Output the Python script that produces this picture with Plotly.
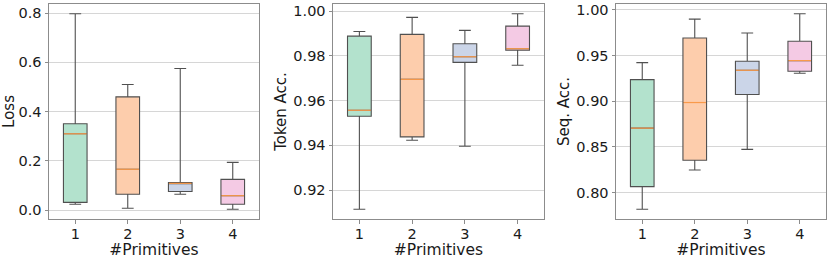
import plotly.graph_objects as go

positions = [1, 2, 3, 4]
tick_labels = ["1", "2", "3", "4"]
box_colors = ["#b3e2cd", "#fdcdac", "#cbd5e8", "#f4cae4"]

# Loss
loss_low = [0.024, 0.008, 0.065, 0.004]
loss_q1 = [0.032, 0.065, 0.076, 0.024]
loss_med = [0.310, 0.166, 0.109, 0.059]
loss_q3 = [0.351, 0.460, 0.112, 0.125]
loss_high = [0.797, 0.510, 0.575, 0.194]

# Token accuracy
tok_low = [0.9115, 0.9423, 0.9396, 0.9758]
tok_q1 = [0.9530, 0.9438, 0.9771, 0.9825]
tok_med = [0.9557, 0.9695, 0.9796, 0.9832]
tok_q3 = [0.9888, 0.9896, 0.9854, 0.9933]
tok_high = [0.9909, 0.9972, 0.9914, 0.9988]

# Sequence accuracy
seq_low = [0.7818, 0.8247, 0.8473, 0.9305]
seq_q1 = [0.8065, 0.8353, 0.9073, 0.9327]
seq_med = [0.8705, 0.8985, 0.9338, 0.9444]
seq_q3 = [0.9236, 0.9691, 0.9436, 0.9655]
seq_high = [0.9422, 0.9898, 0.9745, 0.9956]

panels = [
    ("Loss", loss_low, loss_q1, loss_med, loss_q3, loss_high, [0.0, 0.2, 0.4, 0.6, 0.8], "%.1f"),
    ("Token Acc.", tok_low, tok_q1, tok_med, tok_q3, tok_high, [0.92, 0.94, 0.96, 0.98, 1.00], "%.2f"),
    ("Seq. Acc.", seq_low, seq_q1, seq_med, seq_q3, seq_high, [0.80, 0.85, 0.90, 0.95, 1.00], "%.2f"),
]

W, H = 830, 259
x_domains = [[49 / W, 259 / W], [333 / W, 544 / W], [616 / W, 826 / W]]
y_domain = [1 - 219 / H, 1 - 4 / H]
BOX_W = 0.45
FONT = "DejaVu Sans"

fig = go.Figure()
layout = {}
for k, (title, lo, q1, med, q3, hi, ticks, fmt) in enumerate(panels):
    xa = "x" if k == 0 else f"x{k+1}"
    ya = "y" if k == 0 else f"y{k+1}"
    for i, p in enumerate(positions):
        fig.add_trace(go.Box(
            x=[p], q1=[q1[i]], median=[med[i]], q3=[q3[i]],
            lowerfence=[lo[i]], upperfence=[hi[i]],
            width=BOX_W, whiskerwidth=0.5,
            fillcolor=box_colors[i],
            line=dict(color="#505050", width=1.1),
            boxpoints=False, showlegend=False, hoverinfo="skip",
            xaxis=xa, yaxis=ya,
        ))
        fig.add_trace(go.Scatter(
            x=[p - BOX_W / 2 + 0.01, p + BOX_W / 2 - 0.01], y=[med[i], med[i]],
            mode="lines", line=dict(color="#f99a4a", width=1.2),
            showlegend=False, hoverinfo="skip", xaxis=xa, yaxis=ya,
        ))
    allv = lo + hi
    vmin, vmax = min(allv), max(allv)
    pad = (vmax - vmin) * 0.05
    xkey = "xaxis" if k == 0 else f"xaxis{k+1}"
    ykey = "yaxis" if k == 0 else f"yaxis{k+1}"
    layout[xkey] = dict(
        domain=x_domains[k], anchor=ya, range=[0.5, 4.5], automargin=False,
        tickvals=positions, ticktext=tick_labels,
        showgrid=False, zeroline=False,
        showline=True, mirror=True, linecolor="#8c8c8c", linewidth=1,
        ticks="outside", ticklen=3.5, tickcolor="#8c8c8c",
        ticklabelstandoff=-2,
        tickfont=dict(family=FONT, size=14.5, color="#1a1a1a"),
        title=dict(text="#Primitives", standoff=0,
                   font=dict(family=FONT, size=15.5, color="#1a1a1a")),
    )
    layout[ykey] = dict(
        domain=y_domain, anchor=xa, range=[vmin - pad, vmax + pad], automargin=False,
        tickvals=ticks, ticktext=[fmt % t for t in ticks],
        showgrid=True, gridcolor="#d6d6d6", gridwidth=1, zeroline=False,
        showline=True, mirror=True, linecolor="#8c8c8c", linewidth=1,
        ticks="outside", ticklen=3.5, tickcolor="#8c8c8c",
        tickfont=dict(family=FONT, size=14.5, color="#1a1a1a"),
        title=dict(text=title, standoff=3,
                   font=dict(family=FONT, size=15, color="#1a1a1a")),
    )

fig.update_layout(
    width=W, height=H,
    margin=dict(l=0, r=0, t=0, b=0),
    paper_bgcolor="white", plot_bgcolor="white",
    **layout,
)

fig.write_html("out.html", config={"displayModeBar": False})

# remove the browser's default page margin so the figure sits at the window origin
with open("out.html", "r", encoding="utf-8") as f:
    html = f.read()
html = html.replace("<head>", "<head><style>html,body{margin:0;padding:0;overflow:hidden;}</style>", 1)
with open("out.html", "w", encoding="utf-8") as f:
    f.write(html)
